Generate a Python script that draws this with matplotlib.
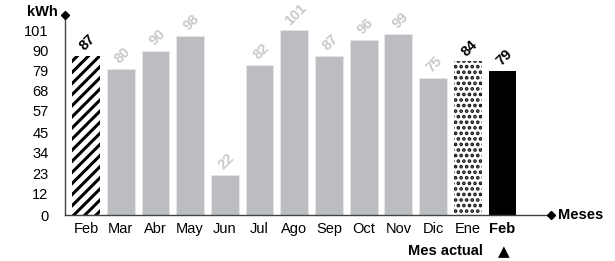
import matplotlib
matplotlib.use("Agg")
import matplotlib.pyplot as plt
import numpy as np

plt.rcParams['font.family'] = ['Liberation Sans', 'DejaVu Sans']

months = ['Feb', 'Mar', 'Abr', 'May', 'Jun', 'Jul', 'Ago', 'Sep', 'Oct', 'Nov', 'Dic', 'Ene', 'Feb']
kwh = [87, 80, 90, 98, 22, 82, 101, 87, 96, 99, 75, 84, 79]
yticks = [0, 12, 23, 34, 45, 57, 68, 79, 90, 101]

gray = '#bcbdc0'
label_gray = '#c8c9cc'
axis_col = '#3c443c'

fig = plt.figure(figsize=(6.15, 2.61), dpi=100)
ax = fig.add_axes([0.106, 0.176, 0.79, 0.767])

x = np.arange(len(months))

for i, v in enumerate(kwh):
    if i == 0:
        with plt.rc_context({'hatch.linewidth': 2.2}):
            ax.bar(x[i], v, width=0.8, color='white', edgecolor='black',
                   hatch='///', linewidth=0)
        lc = 'black'
    elif i == len(kwh) - 2:
        with plt.rc_context({'hatch.linewidth': 1.8}):
            ax.bar(x[i], v, width=0.8, color='white', edgecolor='#111111',
                   hatch='...', linewidth=0)
        lc = 'black'
    elif i == len(kwh) - 1:
        ax.bar(x[i], v, width=0.8, color='black', linewidth=0)
        lc = 'black'
    else:
        ax.bar(x[i], v, width=0.8, color=gray, edgecolor='#e6e6e8', linewidth=0.6)
        lc = label_gray
    ax.text(x[i] + 0.05, v + 1.5, str(v), rotation=45, ha='center', va='bottom',
            fontsize=10.5, fontweight='bold', color=lc)

ax.set_xlim(-0.6, 13.4)
ax.set_ylim(0, 109.5)

for s in ['top', 'right']:
    ax.spines[s].set_visible(False)
for s in ['left', 'bottom']:
    ax.spines[s].set_color(axis_col)
    ax.spines[s].set_linewidth(1.0)

ax.plot(13.4, 0, marker='D', color='black', markersize=4, clip_on=False, zorder=5)
ax.plot(-0.6, 109.5, marker='D', color='black', markersize=4, clip_on=False, zorder=5)

ax.set_yticks(yticks)
ax.set_yticklabels([str(t) for t in yticks], fontsize=10.5)
ax.set_xticks(x)
ax.set_xticklabels(months, fontsize=10.5)
ax.get_xticklabels()[-1].set_fontweight('bold')
ax.tick_params(length=0, pad=5)
ax.tick_params(axis='y', pad=12)

ax.text(-0.82, 111, 'kWh', ha='right', va='center', fontsize=10.5, fontweight='bold')
ax.text(13.6, 0, 'Meses', ha='left', va='center', fontsize=10.5, fontweight='bold')
ax.text(x[-1] - 0.55, -16, 'Mes actual', ha='right', va='top',
        fontsize=10.5, fontweight='bold')
ax.text(x[-1] + 0.05, -16, '\u25B2', ha='center', va='top',
        fontsize=11, family=['DejaVu Sans'])

fig.savefig('out.png', dpi=100)
